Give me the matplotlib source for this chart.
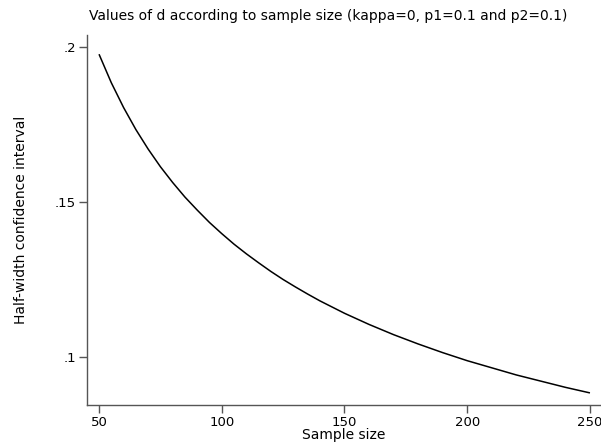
import matplotlib
matplotlib.use("Agg")
import matplotlib.pyplot as plt

sample_size = [50, 55, 60, 65, 70, 75, 80, 85, 90, 95, 100, 105, 110, 115, 120,
               125, 130, 135, 140, 145, 150, 160, 170, 180, 190, 200, 210, 220,
               230, 240, 250]
half_width = [0.1977, 0.1885, 0.1805, 0.1734, 0.1671, 0.1614, 0.1563, 0.1516,
              0.1474, 0.1434, 0.1398, 0.1364, 0.1333, 0.1304, 0.1276, 0.1250,
              0.1226, 0.1203, 0.1181, 0.1161, 0.1141, 0.1105, 0.1072, 0.1042,
              0.1014, 0.0988, 0.0965, 0.0942, 0.0922, 0.0902, 0.0884]
x_ticks = [50, 100, 150, 200, 250]
y_ticks = [0.1, 0.15, 0.2]
y_tick_labels = [".1", ".15", ".2"]

plt.rcParams['font.family'] = ['DejaVu Sans']
fig = plt.figure(figsize=(6.01, 4.43), dpi=100)
ax = fig.add_axes([87/601, 1-405/443, 1-87/601, (405-35)/443])
ax.plot(sample_size, half_width, color='black', lw=1.1, solid_capstyle='butt',
        solid_joinstyle='round')
ax.set_xlim(45.1, 254.5)
ax.set_ylim(0.0845, 0.2039)
for s in ['top', 'right']:
    ax.spines[s].set_visible(False)
for s in ['left', 'bottom']:
    ax.spines[s].set_color('#555555')
    ax.spines[s].set_linewidth(1.0)
ax.set_xticks(x_ticks)
ax.set_yticks(y_ticks)
ax.set_yticklabels(y_tick_labels)
ax.tick_params(axis='both', direction='out', length=6, width=1.0, color='#555555',
               labelsize=9.5, pad=2)
ax.set_xlabel("Sample size", fontsize=10, labelpad=-1)
ax.set_ylabel("Half-width confidence interval", fontsize=10, labelpad=19)
fig.text(328/601, 1-16/443, "Values of d according to sample size (kappa=0, p1=0.1 and p2=0.1)",
         ha='center', va='center', fontsize=10)
fig.savefig("out.png", dpi=100)
